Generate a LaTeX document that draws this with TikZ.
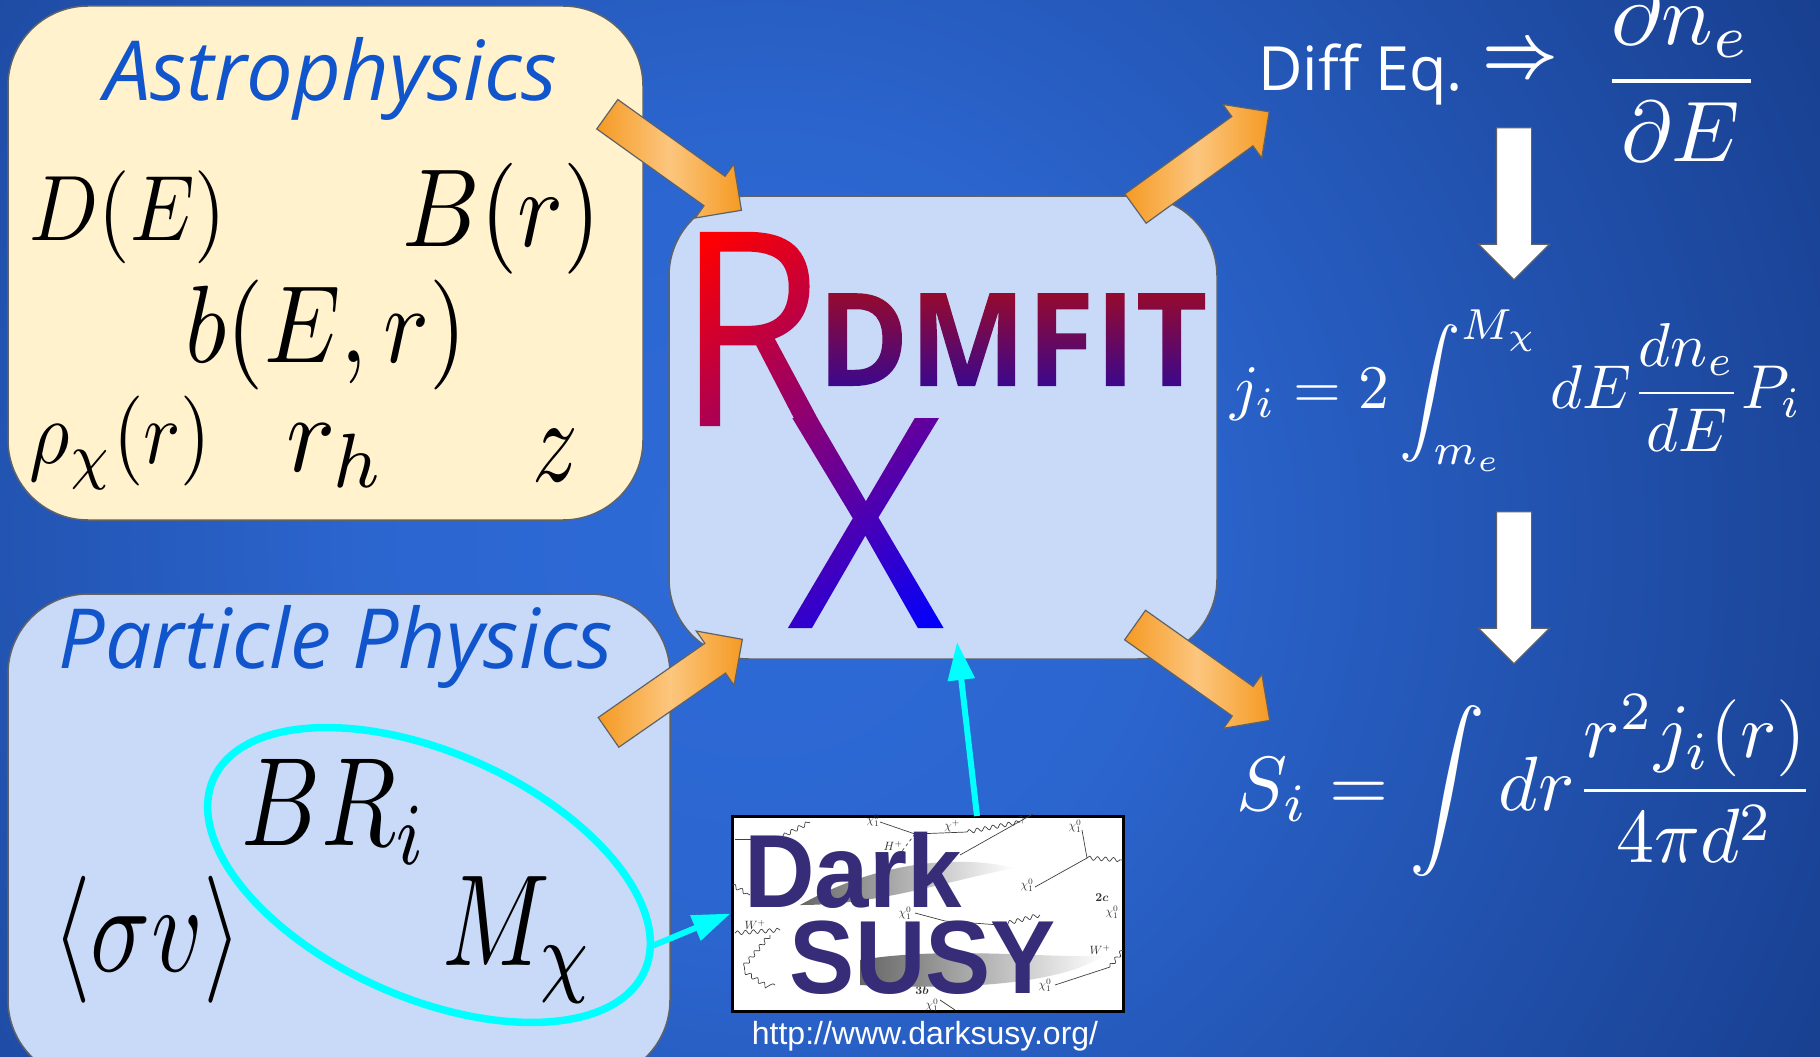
\documentclass[tikz,border=0pt]{standalone}
\usepackage{amsmath}
\usepackage[no-math]{fontspec}
\usepackage{xcolor}
\usepackage{tikz}
\usetikzlibrary{positioning,arrows.meta,shapes.geometric,shapes.arrows,decorations.pathmorphing}
\newfontfamily\opensans{Open Sans}
\newfontfamily\arialfont{Liberation Sans}
\newfontfamily\signR[FakeStretch=0.89]{Open Sans}
\newfontfamily\signX[FakeStretch=0.93]{Open Sans}
\definecolor{bgcentre}{HTML}{2E6BD8}
\definecolor{bgedge}{HTML}{183F8F}
\definecolor{creamfill}{HTML}{FFF2CC}
\definecolor{paleblue}{HTML}{C9DAF8}
\definecolor{boxborder}{HTML}{5F6368}
\definecolor{headblue}{HTML}{1155CC}
\definecolor{arrowdark}{HTML}{F59A23}
\definecolor{arrowlight}{HTML}{FCC67E}
\definecolor{susyink}{HTML}{372C78}
\definecolor{ringcyan}{HTML}{00FFFF}
\definecolor{dmfittop}{HTML}{9A0A2A}
\definecolor{dmfitbase}{HTML}{38088F}
\pgfdeclareradialshading{bgglow}{\pgfpointorigin}{color(0bp)=(bgcentre); color(8bp)=(bgcentre!88!bgedge); color(25bp)=(bgedge); color(50bp)=(bgedge)}
\newcommand{\gradtext}[2]{\special{pdf:code q 7 Tr}#1\special{pdf:code 0 Tr}#2\special{pdf:code Q}}
\tikzset{x=1pt,y=-1pt}
\begin{document}
\begin{tikzpicture}[
    roundbox/.style={
        draw=boxborder,
        line width=1.5pt,
        rounded corners=80pt,
        inner sep=0pt
    },
    headline/.style={
        text=headblue,
        inner sep=0pt,
        anchor=base,
        font=\opensans\itshape\fontsize{83}{83}\selectfont
    },
    mathlabel/.style 2 args={
        inner sep=0pt,
        xscale=#1,
        yscale=#2
    },
    whitemath/.style 2 args={
        text=white,
        inner sep=0pt,
        anchor=base,
        xscale=#1,
        yscale=#2
    },
    blockarrow/.style={
        single arrow,
        draw=boxborder,
        line width=1.2pt,
        inner xsep=0pt,
        inner ysep=17.5pt,
        single arrow head extend=15pt,
        left color=arrowdark,
        right color=arrowdark,
        middle color=arrowlight
    },
    downarrow/.style={
        single arrow,
        rotate=-90,
        draw=boxborder,
        fill=white,
        line width=1.2pt,
        inner xsep=0pt,
        inner ysep=17pt,
        minimum height=152pt,
        single arrow head extend=18pt
    },
    cyanarrow/.style={
        -{Triangle[length=38pt,width=26pt]},
        draw=ringcyan,
        line width=6pt
    },
    feynman/.style={
        draw=black!75,
        line width=0.7pt
    },
    wiggle/.style={
        feynman,
        decorate,
        decoration={snake,amplitude=2pt,segment length=8pt}
    },
    feynlabel/.style={
        inner sep=0pt,
        text=black!80,
        scale=1.2
    },
    susyword/.style={
        text=susyink,
        inner sep=0pt,
        anchor=base,
        xscale=0.94,
        font=\arialfont\bfseries\fontsize{104}{104}\selectfont
    }
]
\useasboundingbox (0,0) rectangle (1820,1057);
\clip (0,0) rectangle (1820,1057);
\shade[shading=bgglow] (760,540) circle (1200);

\node[roundbox, fill=creamfill, minimum width=635pt, minimum height=514pt] (astrobox) at (325.5,263) {};
\node[roundbox, fill=paleblue, minimum width=662pt, minimum height=486pt] (particlebox) at (339,837) {};
\node[roundbox, fill=paleblue, minimum width=548pt, minimum height=463pt] (rdmfitbox) at (943,427.5) {};

\node[inner sep=0pt, anchor=base west] (rxsign) at (676,426) {\gradtext{\hbox{\signR\fontsize{272}{272}\selectfont R}\kern-39pt\lower202pt\hbox{\signX\fontsize{294}{294}\selectfont X}}{\rlap{\kern-343.6pt\lower229pt\hbox{\tikz\shade[top color=red, bottom color=blue, shading angle=38] (0,0) rectangle (450,-450);}}}};
\node[inner sep=0pt, anchor=base west, xscale=0.956] (dmfitword) at (817,386) {\gradtext{\hbox{\opensans\bfseries\fontsize{130}{130}\selectfont DMFIT}}{\rlap{\kern-430pt\lower3pt\hbox{\tikz\shade[top color=dmfittop, bottom color=dmfitbase] (0,0) rectangle (440,-100);}}}};

\node[headline] (astrotitle) at (331,100) {Astrophysics};
\node[headline, xscale=0.99] (particletitle) at (336,668) {Particle Physics};

\node[mathlabel={8.1}{9.3}] (diffusion) at (128,217) {$D(E)$};
\node[mathlabel={9.6}{11.1}] (bfield) at (502,219) {$B(r)$};
\node[mathlabel={9.6}{11}] (eloss) at (326,335) {$b(E,r)$};
\node[mathlabel={7.8}{9}] (density) at (120.5,443) {$\rho_\chi(r)$};
\node[mathlabel={10.3}{11}] (halfradius) at (336,456) {$r_h$};
\node[mathlabel={9}{12}] (redshift) at (555,456) {$z$};

\node[mathlabel={9.8}{12.6}] (branching) at (335,812) {$BR_i$};
\node[mathlabel={10}{13}] (wimpmass) at (518,940) {$M_\chi$};
\node[mathlabel={9.95}{12.7}] (crosssection) at (147,940) {$\langle\sigma v\rangle$};
\node[draw=ringcyan, line width=7.5pt, ellipse, inner sep=0pt, minimum width=472pt, minimum height=245pt, rotate=-24] (wimpring) at (429,875) {};

\node[draw=black, line width=3pt, fill=white, inner sep=0pt, minimum width=391pt, minimum height=195pt] (susylogo) at (927.5,913.5) {};
\begin{scope}
\clip (susylogo.south west) rectangle (susylogo.north east);
\draw[wiggle] (783,836) -- (810,822);
\draw[feynman] (735,839) -- (770,839);
\draw[feynman] (880,822) -- (915,834) -- (967,832);
\draw[wiggle] (967,832) -- (1020,822);
\draw[feynman] (960,855) -- (1040,810);
\draw[feynman,dashed] (915,834) -- (880,880);
\draw[feynman] (1082,830) -- (1087,858);
\draw[wiggle] (1087,858) -- (1123,860);
\draw[feynman] (1087,858) -- (1035,887);
\draw[wiggle] (732,885) -- (750,895);
\draw[feynman] (915,913) -- (945,921) -- (1000,925);
\draw[wiggle] (1000,925) -- (1040,915);
\draw[wiggle] (735,933) -- (780,930);
\draw[wiggle] (770,935) -- (745,965) -- (775,985);
\draw[feynman] (1055,985) -- (1110,967);
\draw[wiggle] (1110,967) -- (1123,950);
\draw[feynman] (940,1000) -- (955,1010);
\node[feynlabel] (chitop) at (873,820) {$\chi_1^0$};
\node[feynlabel] (chiplus) at (952,826) {$\chi^+$};
\node[feynlabel] (chiright) at (1075,826) {$\chi_1^0$};
\node[feynlabel] (higgs) at (893,846) {$H^+$};
\node[feynlabel] (chimid) at (1027,885) {$\chi_1^0$};
\node[feynlabel] (chilow) at (905,913) {$\chi_1^0$};
\node[feynlabel] (chirim) at (1112,912) {$\chi_1^0$};
\node[feynlabel] (wleft) at (755,925) {$W^+$};
\node[feynlabel] (wright) at (1100,950) {$W^+$};
\node[feynlabel] (chibase) at (1045,985) {$\chi_1^0$};
\node[feynlabel] (chifoot) at (932,1005) {$\chi_1^0$};
\node[feynlabel] (gammatop) at (1022,820) {$\gamma$};
\node[feynlabel] (twoc) at (1102,898) {$\boldsymbol{2c}$};
\node[feynlabel] (threeb) at (922,990) {$\boldsymbol{3b}$};
\shade[left color=black!60, right color=white] (800,905) .. controls (880,860) and (960,855) .. (1015,868) .. controls (950,880) and (880,905) .. cycle;
\shade[left color=black!60, right color=white] (860,960) .. controls (950,945) and (1060,960) .. (1105,955) .. controls (1060,985) and (960,990) .. (860,985) -- cycle;
\end{scope}
\node[susyword] (darkword) at (853,907) {Dark};
\node[susyword] (susyword) at (923,993) {SUSY};
\node[text=white, inner sep=0pt, font=\arialfont\fontsize{32}{32}\selectfont] (susyurl) at (925,1036) {http://www.darksusy.org/};

\coordinate (ringout) at (652,946);
\coordinate (logoexit) at (977,816);
\coordinate (rdmfitentry) at (957,642);
\draw[cyanarrow] (ringout) -- (susylogo.west);
\draw[cyanarrow] (logoexit) -- (rdmfitentry);

\node[blockarrow, minimum height=165pt, rotate=-35.6] (astroarrow) at (667,157) {};
\node[blockarrow, minimum height=163pt, rotate=34.8] (particlearrow) at (668,691) {};
\node[blockarrow, minimum height=165pt, rotate=35.9] (eqnarrow) at (1195,165.5) {};
\node[blockarrow, minimum height=165pt, rotate=-35.3] (fluxarrow) at (1195,667.5) {};

\node[text=white, inner sep=0pt, anchor=base west, font=\opensans\fontsize{61}{61}\selectfont] (diffeq) at (1258,90) {Diff Eq.};
\node[text=white, inner sep=0pt, xscale=6.6, yscale=7.5] (implies) at (1520,62) {$\boldsymbol{\Rightarrow}$};
\node[whitemath={8.6}{8.6}] (spectrum) at (1681,102.5) {$\dfrac{\partial n_e}{\partial E}$};
\node[downarrow] (firststep) at (1514,195) {};
\node[downarrow] (secondstep) at (1514,579) {};
\node[whitemath={6.15}{6.2}] (emissivity) at (1516,408.5) {$\displaystyle j_i = 2\int_{m_e}^{M_\chi} dE\dfrac{dn_e}{dE}P_i$};
\node[whitemath={7.6}{7.7}] (fluxdensity) at (1526,810) {$\displaystyle S_i = \int dr\dfrac{r^2 j_i(r)}{4\pi d^2}$};

\end{tikzpicture}
\end{document}
